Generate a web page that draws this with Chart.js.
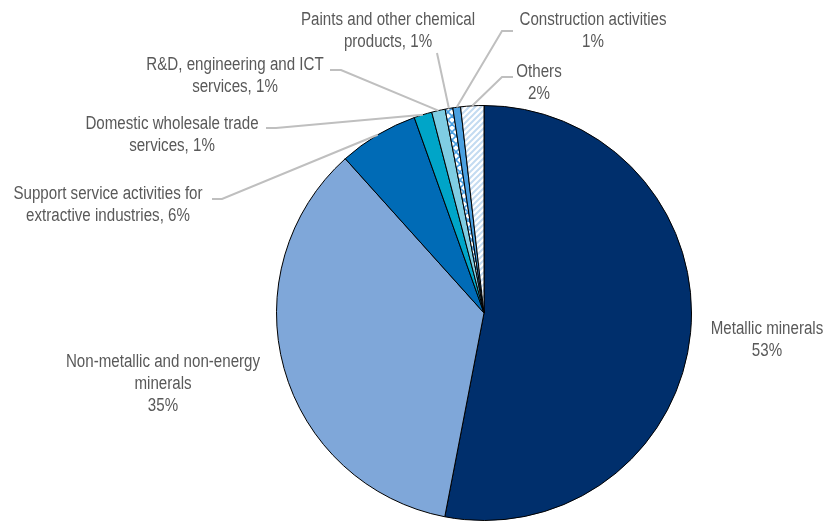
<!DOCTYPE html>
<html>
<head>
<meta charset="utf-8">
<script src="https://cdn.jsdelivr.net/npm/chart.js@4"></script>
<style>
  html, body { margin: 0; padding: 0; background: #fff; }
  #wrap { width: 825px; height: 521px; }
</style>
</head>
<body>
<div id="wrap"><canvas id="pie" width="825" height="521"></canvas></div>
<script>
// Parts des secteurs (%), dans le sens horaire depuis midi
const categories = [
    'Metallic minerals',
    'Non-metallic and non-energy minerals',
    'Support service activities for extractive industries',
    'Domestic wholesale trade services',
    'R&D, engineering and ICT services',
    'Paints and other chemical products',
    'Construction activities',
    'Others'
];
const shares = [53.0, 35.3, 6.2, 1.4, 1.05, 0.6, 0.6, 1.8];

// Police condensée : Liberation Sans compressée horizontalement
const FONT = '18px "Liberation Sans", Arial, sans-serif';
const FONT_SCALE_X = 0.84;

// Motifs hachurés
function stripes(bg, fg) {
    const c = document.createElement('canvas');
    c.width = 6; c.height = 6;
    const g = c.getContext('2d');
    g.fillStyle = bg; g.fillRect(0, 0, 6, 6);
    g.strokeStyle = fg; g.lineWidth = 2;
    g.beginPath();
    g.moveTo(-1, 7); g.lineTo(7, -1);
    g.moveTo(-4, 4); g.lineTo(4, -4);
    g.moveTo(2, 10); g.lineTo(10, 2);
    g.stroke();
    return g.createPattern(c, 'repeat');
}
function zigzag(bg, fg) {
    const c = document.createElement('canvas');
    c.width = 8; c.height = 8;
    const g = c.getContext('2d');
    g.fillStyle = bg; g.fillRect(0, 0, 8, 8);
    g.strokeStyle = fg; g.lineWidth = 1.6;
    g.beginPath();
    g.moveTo(0, 0); g.lineTo(4, 4); g.lineTo(0, 8);
    g.moveTo(8, 0); g.lineTo(4, 4); g.lineTo(8, 8);
    g.stroke();
    return g.createPattern(c, 'repeat');
}

const colors = [
    '#002F6C',
    '#7FA7D9',
    '#006BB6',
    '#00A5C8',
    '#7FCDE3',
    zigzag('#ffffff', '#4A9FE2'),
    '#4BA0E0',
    stripes('#ffffff', '#C3DBF1')
];

// Placement des étiquettes : centre du texte, première ligne, coupure, lignes de rappel
const labelLayout = [
    { x: 767, y: 329, words: 2, inline: false, leader: null },
    { x: 163, y: 362, words: 3, inline: false, leader: null },
    { x: 108, y: 194, words: 4, inline: true, leader: [[212, 199], [222, 199]] },
    { x: 172, y: 124, words: 3, inline: true, leader: [[266, 128], [276, 128]] },
    { x: 235, y: 65,  words: 4, inline: true, leader: [[330, 70], [341, 70]] },
    { x: 388, y: 20,  words: 4, inline: true, leader: [[437, 53], [437, 53]] },
    { x: 593, y: 20,  words: 2, inline: false, leader: [[513, 31], [502, 31]] },
    { x: 539, y: 72,  words: 1, inline: false, leader: [[513, 77], [502, 77]] }
];

const total = shares.reduce((a, b) => a + b, 0);

function labelLines(i) {
    const words = categories[i].split(' ');
    const lay = labelLayout[i];
    const pct = Math.round(shares[i] / total * 100) + '%';
    const first = words.slice(0, lay.words).join(' ');
    const rest = words.slice(lay.words).join(' ');
    const lines = [first];
    if (lay.inline) {
        lines.push(rest + ', ' + pct);
    } else {
        if (rest) lines.push(rest);
        lines.push(pct);
    }
    return lines;
}

const labelsPlugin = {
    id: 'sliceLabels',
    afterDatasetsDraw(chart) {
        const ctx = chart.ctx;
        const meta = chart.getDatasetMeta(0);
        ctx.save();
        meta.data.forEach((arc, i) => {
            const lay = labelLayout[i];
            if (lay.leader) {
                const mid = (arc.startAngle + arc.endAngle) / 2;
                const ex = arc.x + Math.cos(mid) * arc.outerRadius;
                const ey = arc.y + Math.sin(mid) * arc.outerRadius;
                ctx.strokeStyle = '#BFBFBF';
                ctx.lineWidth = 2;
                ctx.beginPath();
                ctx.moveTo(lay.leader[0][0], lay.leader[0][1]);
                ctx.lineTo(lay.leader[1][0], lay.leader[1][1]);
                ctx.lineTo(ex, ey);
                ctx.stroke();
            }
            ctx.fillStyle = '#595959';
            ctx.font = FONT;
            ctx.textAlign = 'center';
            ctx.textBaseline = 'middle';
            labelLines(i).forEach((line, k) => {
                ctx.save();
                ctx.translate(lay.x, lay.y + k * 22);
                ctx.scale(FONT_SCALE_X, 1);
                ctx.fillText(line, 0, 0);
                ctx.restore();
            });
        });
        ctx.restore();
    }
};

new Chart(document.getElementById('pie'), {
    type: 'pie',
    data: {
        labels: categories,
        datasets: [{
            data: shares,
            backgroundColor: colors,
            borderColor: '#000000',
            borderWidth: 1
        }]
    },
    options: {
        responsive: false,
        animation: false,
        layout: { padding: { top: 105, bottom: 0, left: 276, right: 133 } },
        plugins: {
            legend: { display: false },
            tooltip: { enabled: false }
        }
    },
    plugins: [labelsPlugin]
});
</script>
</body>
</html>
